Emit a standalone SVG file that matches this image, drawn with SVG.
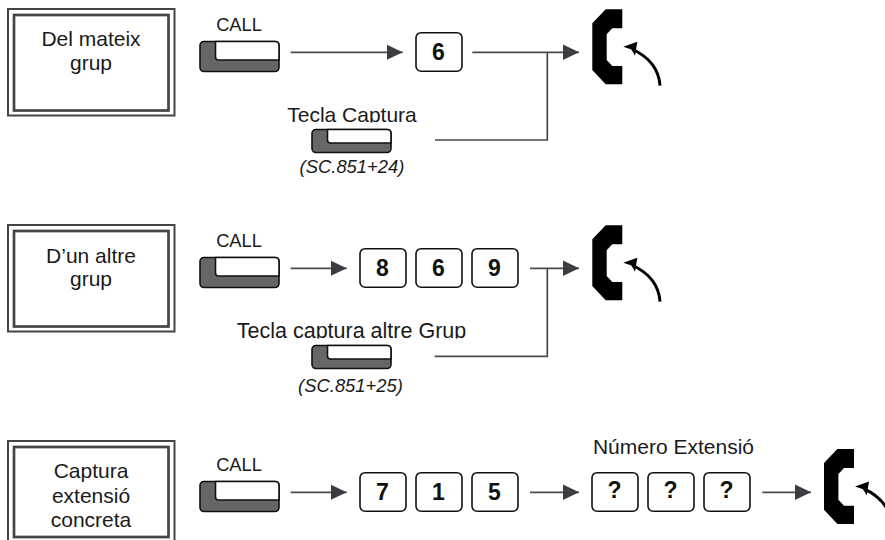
<svg xmlns="http://www.w3.org/2000/svg" width="885" height="540" viewBox="0 0 885 540">
<style>
text{font-family:"Liberation Sans",Arial,sans-serif;fill:#1a1a1a;text-anchor:middle}
.t{font-size:21px}.c{font-size:18.3px}.s{font-size:18.4px;font-style:italic}
.w{font-size:21.5px}
.d{font-size:23px;font-weight:bold;fill:#111}
.fo{fill:none;stroke:#444;stroke-width:2}
.fi{fill:#fff;stroke:#444;stroke-width:2.7}
.k{fill:#fff;stroke:#111;stroke-width:1.6}
.line{fill:none;stroke:#4a4a4e;stroke-width:1.7}
.curve{fill:none;stroke:#000;stroke-width:3}
</style>
<defs>
<marker id="ah" markerUnits="userSpaceOnUse" markerWidth="17" markerHeight="16" refX="16" refY="8" orient="auto"><path d="M0,0.3L16,8L0,15.7Z" fill="#3c3c42"/></marker>
<clipPath id="c1"><rect x="270" y="100" width="170" height="22.600"/></clipPath>
<clipPath id="c2"><rect x="220" y="316" width="260" height="22.600"/></clipPath>
<g id="keyL">
<rect x="0.500" y="0.500" width="79" height="30" rx="4" fill="#666" stroke="#111" stroke-width="1.600"/>
<path d="M16,0.500V16Q16,19 19,19H79.500V4.500Q79.500,0.500 75.500,0.500Z" fill="#fff" stroke="#111" stroke-width="1.600"/>
</g>
<g id="keyS">
<rect x="0.500" y="0.500" width="79" height="23" rx="4" fill="#666" stroke="#111" stroke-width="1.600"/>
<path d="M16,0.500V11Q16,14 19,14H79.500V4.500Q79.500,0.500 75.500,0.500Z" fill="#fff" stroke="#111" stroke-width="1.600"/>
</g>
<path id="ph" d="M622.300,9.300H605.700L592.300,23.300V70L605.700,84.300H622.300V66H612.300L606.700,60V34.300L612.300,28.300H622.300Z" fill="#000"/>
<g id="tip"><path d="M660,85.700C659,70 649,57 632,49" class="curve"/><path d="M623.300,46.700L637.300,41.700L635,55.700L631.500,49.500Z" fill="#000"/></g>
</defs>
<rect width="885" height="540" fill="#fff"/>
<g id="connectors">
<path class="line" d="M290.700,52.300H402.700" marker-end="url(#ah)"/>
<path class="line" d="M472.300,52.300H579" marker-end="url(#ah)"/>
<path class="line" d="M435,140H547.300V52.300"/>
<path class="line" d="M290.700,268.300H346.700" marker-end="url(#ah)"/>
<path class="line" d="M530,268.300H579" marker-end="url(#ah)"/>
<path class="line" d="M434.700,356.300H547.300V268.300"/>
<path class="line" d="M290.700,492.300H346.700" marker-end="url(#ah)"/>
<path class="line" d="M530,492.300H579" marker-end="url(#ah)"/>
<path class="line" d="M762.300,492.300H811" marker-end="url(#ah)"/>
</g>
<g id="frame1"><rect class="fo" x="8" y="9" width="166.500" height="106.500"/><rect class="fi" x="14" y="15" width="154.500" height="95.500"/><text class="t" x="91" y="46">Del mateix</text><text class="t" x="91" y="70">grup</text></g>
<g id="frame2"><rect class="fo" x="8" y="225" width="166.500" height="106.500"/><rect class="fi" x="14" y="231" width="154.500" height="95.500"/><text class="t" x="91" y="262.500">D’un altre</text><text class="t" x="91" y="285.500">grup</text></g>
<g id="frame3"><rect class="fo" x="8" y="441" width="166.500" height="106.500"/><rect class="fi" x="14" y="447" width="154.500" height="90"/><text class="t" x="91" y="478">Captura</text><text class="t" x="91" y="502.500">extensió</text><text class="t" x="91" y="526.700">concreta</text></g>
<g id="call1"><text class="c" x="239" y="30.700">CALL</text><use href="#keyL" x="199.500" y="41"/></g>
<g id="call2"><text class="c" x="239" y="247">CALL</text><use href="#keyL" x="199.500" y="257"/></g>
<g id="call3"><text class="c" x="239" y="470.700">CALL</text><use href="#keyL" x="199.500" y="481"/></g>
<g id="capture1"><text class="t" x="352" y="122" clip-path="url(#c1)">Tecla Captura</text><use href="#keyS" x="311.500" y="129"/><text class="s" x="352" y="173">(SC.851+24)</text></g>
<g id="capture2"><text class="w" x="351.500" y="338" clip-path="url(#c2)">Tecla captura altre Grup</text><use href="#keyS" x="311.500" y="345"/><text class="s" x="350.500" y="391.700">(SC.851+25)</text></g>
<g id="key-6a"><rect class="k" x="416" y="32.700" width="46" height="38.500" rx="5"/><text class="d" x="438.500" y="59.500">6</text></g>
<g id="key-8"><rect class="k" x="360" y="248.700" width="46" height="38.500" rx="5"/><text class="d" x="382.500" y="275.500">8</text></g>
<g id="key-6b"><rect class="k" x="416" y="248.700" width="46" height="38.500" rx="5"/><text class="d" x="438.500" y="275.500">6</text></g>
<g id="key-9"><rect class="k" x="472" y="248.700" width="46" height="38.500" rx="5"/><text class="d" x="494.500" y="275.500">9</text></g>
<g id="key-7"><rect class="k" x="360" y="472.700" width="46" height="38.500" rx="5"/><text class="d" x="382.500" y="499.500">7</text></g>
<g id="key-1"><rect class="k" x="416" y="472.700" width="46" height="38.500" rx="5"/><text class="d" x="438.500" y="499.500">1</text></g>
<g id="key-5"><rect class="k" x="472" y="472.700" width="46" height="38.500" rx="5"/><text class="d" x="494.500" y="499.500">5</text></g>
<g id="ext-label"><text class="t" x="673.500" y="454.300">Número Extensió</text></g>
<g id="key-q1"><rect class="k" x="592" y="472.700" width="46" height="38.500" rx="5"/><text class="d" x="614.500" y="497.500">?</text></g>
<g id="key-q2"><rect class="k" x="648" y="472.700" width="46" height="38.500" rx="5"/><text class="d" x="670.500" y="497.500">?</text></g>
<g id="key-q3"><rect class="k" x="704" y="472.700" width="46" height="38.500" rx="5"/><text class="d" x="726.500" y="497.500">?</text></g>
<g id="phone1"><use href="#ph"/><use href="#tip"/></g>
<g id="phone2"><use href="#ph" y="216"/><use href="#tip" y="216"/></g>
<g id="phone3"><use href="#ph" x="231.700" y="439.700"/><use href="#tip" x="231.700" y="439.700"/></g>
</svg>
